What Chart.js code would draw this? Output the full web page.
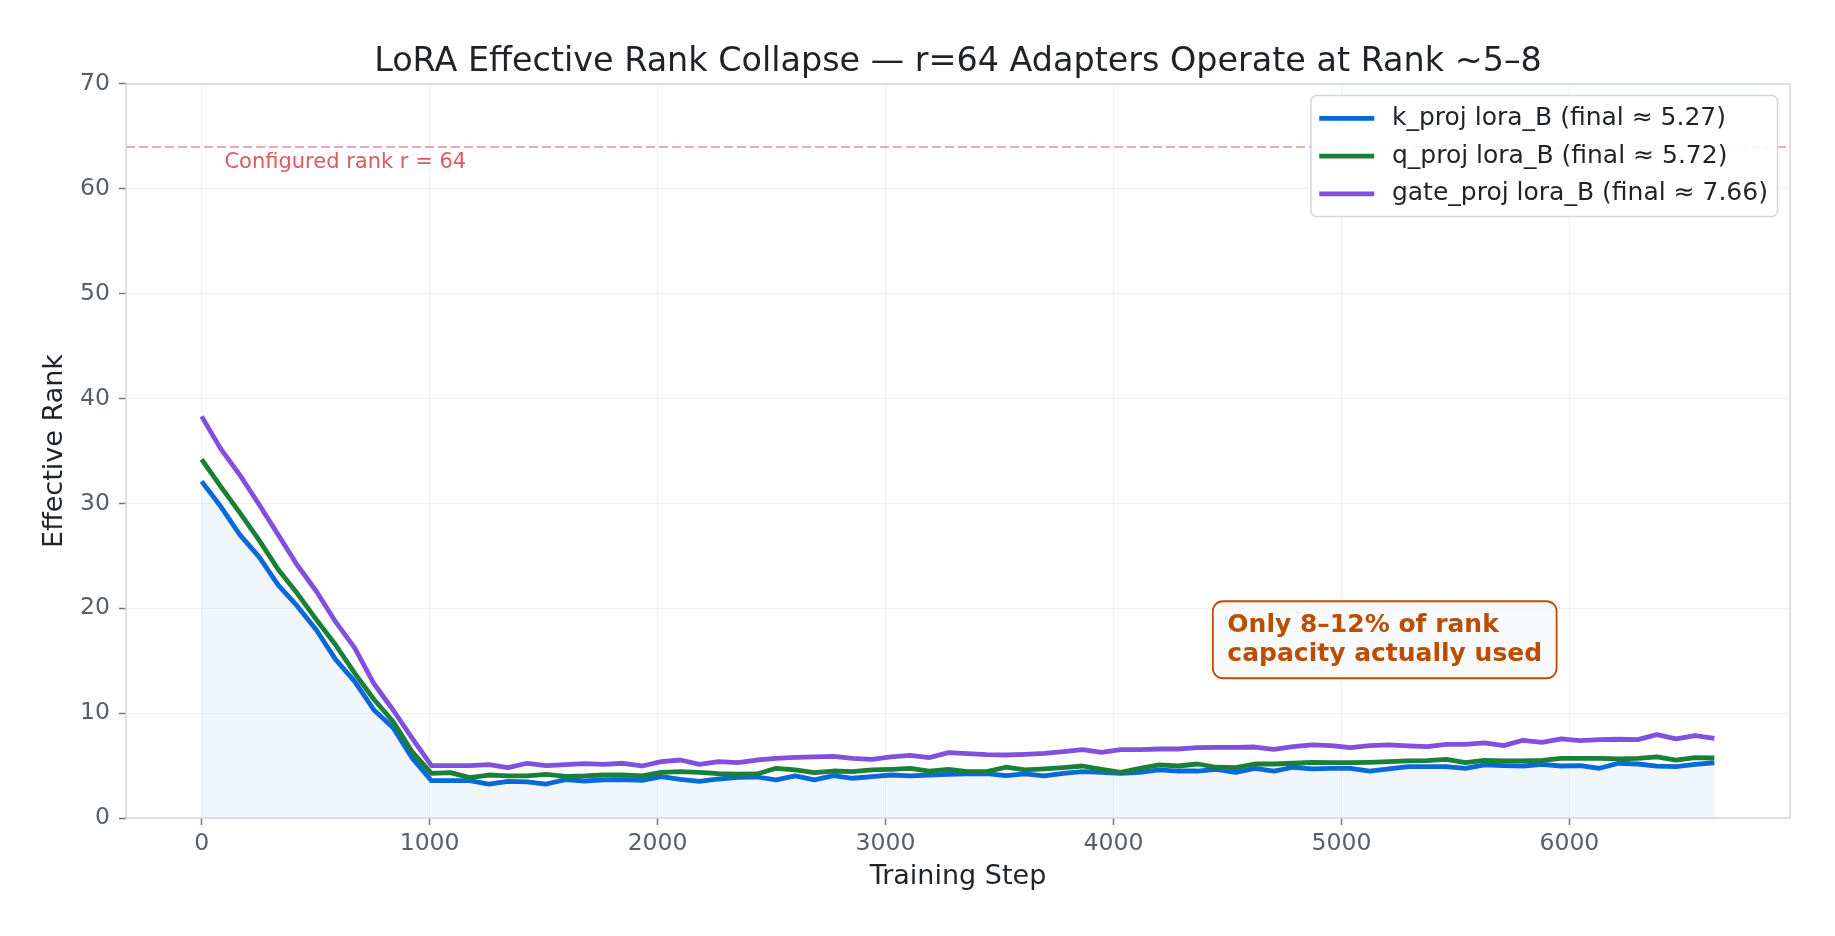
<!DOCTYPE html>
<html><head><meta charset="utf-8">
<script src="https://cdn.jsdelivr.net/npm/chart.js@4.4.1/dist/chart.umd.min.js"></script>
<style>html,body{margin:0;padding:0;background:#fff;}#wrap{width:1835px;height:936px;}</style>
</head><body><div id="wrap"><canvas id="c" width="1835" height="936"></canvas></div>
<script>
const steps = [0, 84, 168, 252, 336, 420, 504, 588, 672, 756, 840, 924, 1008, 1092, 1176, 1260,
  1344, 1428, 1512, 1596, 1680, 1764, 1848, 1932, 2016, 2100, 2184, 2268, 2352, 2436, 2520, 2604,
  2688, 2772, 2856, 2940, 3024, 3108, 3192, 3276, 3360, 3444, 3528, 3612, 3696, 3780, 3864, 3948,
  4032, 4116, 4200, 4284, 4368, 4452, 4536, 4620, 4704, 4788, 4872, 4956, 5040, 5124, 5208, 5292,
  5376, 5460, 5544, 5628, 5712, 5796, 5880, 5964, 6048, 6132, 6216, 6300, 6384, 6468, 6552, 6636];

const kProj = [32.1, 29.7, 27.0, 24.9, 22.2, 20.2, 17.9, 15.1, 13.0, 10.3, 8.6, 5.7,
  3.56, 3.56, 3.56, 3.24, 3.50, 3.44, 3.24, 3.66, 3.53, 3.63, 3.66, 3.59, 3.94, 3.69, 3.50, 3.72,
  3.88, 3.91, 3.63, 4.01, 3.63, 4.04, 3.79, 3.94, 4.10, 4.01, 4.10, 4.17, 4.20, 4.23, 4.04, 4.20,
  4.01, 4.26, 4.42, 4.36, 4.26, 4.36, 4.58, 4.48, 4.48, 4.64, 4.36, 4.74, 4.48, 4.84, 4.68, 4.74,
  4.74, 4.48, 4.68, 4.90, 4.90, 4.90, 4.74, 5.06, 5.00, 4.96, 5.12, 4.96, 5.00, 4.74, 5.22, 5.15,
  4.95, 4.90, 5.12, 5.27];

const qProj = [34.2, 31.6, 29.1, 26.5, 23.7, 21.4, 18.9, 16.5, 13.8, 11.3, 9.2, 6.3,
  4.26, 4.33, 3.85, 4.10, 4.01, 4.01, 4.17, 3.97, 4.01, 4.10, 4.10, 4.01, 4.36, 4.42, 4.36, 4.23,
  4.17, 4.20, 4.74, 4.58, 4.33, 4.48, 4.42, 4.58, 4.64, 4.74, 4.48, 4.64, 4.42, 4.42, 4.84, 4.58,
  4.68, 4.80, 4.96, 4.64, 4.36, 4.74, 5.06, 4.96, 5.15, 4.84, 4.80, 5.15, 5.15, 5.22, 5.31, 5.28,
  5.28, 5.31, 5.37, 5.44, 5.47, 5.60, 5.28, 5.50, 5.44, 5.44, 5.50, 5.69, 5.69, 5.69, 5.63, 5.69,
  5.82, 5.53, 5.76, 5.72];

const gateProj = [38.3, 35.2, 32.7, 29.9, 27.0, 24.1, 21.6, 18.7, 16.2, 12.8, 10.3, 7.6,
  4.99, 4.99, 4.99, 5.09, 4.80, 5.22, 4.99, 5.09, 5.18, 5.12, 5.22, 4.96, 5.37, 5.53, 5.12, 5.37,
  5.28, 5.53, 5.69, 5.79, 5.82, 5.88, 5.69, 5.60, 5.82, 5.98, 5.76, 6.23, 6.14, 6.04, 6.01, 6.07,
  6.17, 6.33, 6.52, 6.27, 6.52, 6.52, 6.58, 6.58, 6.71, 6.74, 6.74, 6.77, 6.55, 6.81, 6.97, 6.90,
  6.71, 6.90, 6.97, 6.87, 6.81, 7.03, 7.03, 7.16, 6.90, 7.41, 7.22, 7.54, 7.38, 7.47, 7.51, 7.47,
  7.95, 7.54, 7.86, 7.60];

const seriesLabels = ['k_proj lora_B (final \u2248 5.27)', 'q_proj lora_B (final \u2248 5.72)', 'gate_proj lora_B (final \u2248 7.66)'];
const xTicks = [0, 1000, 2000, 3000, 4000, 5000, 6000];
const yTicks = [0, 10, 20, 30, 40, 50, 60, 70];
const configuredRank = 64;
const titleText = 'LoRA Effective Rank Collapse \u2014 r=64 Adapters Operate at Rank ~5\u20138';
const annotationLines = ['Only 8\u201312% of rank', 'capacity actually used'];
const configLabel = 'Configured rank r = 64';

const COLORS = ['#0969da', '#1a7f37', '#8250df'];
const FONT = '"DejaVu Sans", "Liberation Sans", sans-serif';
const LW = 4.8;

const toPts = (ys) => steps.map((s, i) => ({x: s, y: ys[i]}));
const span = steps[steps.length - 1] - steps[0];
const xMin = steps[0] - 0.05 * span, xMax = steps[steps.length - 1] + 0.05 * span;

function roundRect(ctx, x, y, w, h, r) {
  ctx.beginPath();
  ctx.moveTo(x + r, y);
  ctx.lineTo(x + w - r, y); ctx.arcTo(x + w, y, x + w, y + r, r);
  ctx.lineTo(x + w, y + h - r); ctx.arcTo(x + w, y + h, x + w - r, y + h, r);
  ctx.lineTo(x + r, y + h); ctx.arcTo(x, y + h, x, y + h - r, r);
  ctx.lineTo(x, y + r); ctx.arcTo(x, y, x + r, y, r);
  ctx.closePath();
}

const overlay = {
  id: 'overlay',
  afterDatasetsDraw(chart) {
    const {ctx, chartArea: ca, scales: {x, y}} = chart;
    ctx.save();
    // reference line
    const yr = y.getPixelForValue(configuredRank);
    ctx.strokeStyle = 'rgba(207,34,46,0.5)';
    ctx.lineWidth = 1.5;
    ctx.setLineDash([9, 4]);
    ctx.beginPath(); ctx.moveTo(ca.left, yr); ctx.lineTo(ca.right, yr); ctx.stroke();
    ctx.setLineDash([]);
    ctx.fillStyle = 'rgba(207,34,46,0.75)';
    ctx.font = '21px ' + FONT;
    ctx.textAlign = 'left'; ctx.textBaseline = 'middle';
    ctx.fillText(configLabel, x.getPixelForValue(100), y.getPixelForValue(62.5));
    // spines
    ctx.strokeStyle = '#d0d7de'; ctx.lineWidth = 1.5;
    ctx.strokeRect(ca.left, ca.top, ca.right - ca.left, ca.bottom - ca.top);
    // annotation box
    ctx.font = 'bold 25px ' + FONT;
    const tw = Math.max(...annotationLines.map(t => ctx.measureText(t).width));
    const cx = x.getPixelForValue(5190), cy = y.getPixelForValue(17);
    const bw = tw + 29, bh = 77;
    roundRect(ctx, cx - bw / 2, cy - bh / 2, bw, bh, 10);
    ctx.fillStyle = 'rgba(246,248,250,0.92)'; ctx.fill();
    ctx.strokeStyle = '#bc4c00'; ctx.lineWidth = 1.8; ctx.stroke();
    ctx.fillStyle = '#bc4c00';
    ctx.fillText(annotationLines[0], cx - tw / 2, cy - 14.5);
    ctx.fillText(annotationLines[1], cx - tw / 2, cy + 14.5);
    // legend
    ctx.font = '25px ' + FONT;
    const lw = Math.max(...seriesLabels.map(t => ctx.measureText(t).width));
    const boxW = 8.3 + 55 + 17.7 + lw + 9.6, boxH = 121;
    const bx = ca.right - 12.5 - boxW, by = ca.top + 11.5;
    roundRect(ctx, bx, by, boxW, boxH, 6);
    ctx.fillStyle = 'rgba(255,255,255,0.9)'; ctx.fill();
    ctx.strokeStyle = '#d0d7de'; ctx.lineWidth = 1.5; ctx.stroke();
    seriesLabels.forEach((lab, i) => {
      const ry = by + 22.8 + i * 37.8;
      ctx.strokeStyle = COLORS[i]; ctx.lineWidth = LW;
      ctx.beginPath(); ctx.moveTo(bx + 8.3, ry); ctx.lineTo(bx + 63.3, ry); ctx.stroke();
      ctx.fillStyle = '#1f2328';
      ctx.fillText(lab, bx + 81, ry);
    });
    ctx.restore();
  }
};

new Chart(document.getElementById('c'), {
  type: 'line',
  data: {
    datasets: [
      {label: seriesLabels[0], data: toPts(kProj), borderColor: COLORS[0], borderWidth: LW,
       fill: 'origin', backgroundColor: 'rgba(9,105,218,0.06)', order: 3},
      {label: seriesLabels[1], data: toPts(qProj), borderColor: COLORS[1], borderWidth: LW, fill: false, order: 2},
      {label: seriesLabels[2], data: toPts(gateProj), borderColor: COLORS[2], borderWidth: LW, fill: false, order: 1}
    ]
  },
  options: {
    responsive: false, animation: false, devicePixelRatio: 1,
    layout: {padding: {left: 0, right: 45, top: 0, bottom: 0}},
    elements: {point: {radius: 0}, line: {tension: 0, borderJoinStyle: 'round'}},
    plugins: {
      legend: {display: false}, tooltip: {enabled: false},
      title: {display: true, text: titleText, fullSize: false, color: '#1f2328',
        font: {family: FONT, size: 33.4, weight: 'normal'}, padding: {top: 42.3, bottom: 1.6}}
    },
    scales: {
      x: {type: 'linear', min: xMin, max: xMax,
        afterBuildTicks: s => { s.ticks = xTicks.map(v => ({value: v})); },
        afterFit: s => { s.height = 118; },
        border: {display: false},
        grid: {color: 'rgba(208,215,222,0.35)', lineWidth: 1, tickColor: '#6e7781', tickLength: 7, tickWidth: 1.5},
        ticks: {color: '#57606a', font: {family: FONT, size: 23.5}, padding: 5, maxRotation: 0, callback: v => String(v)},
        title: {display: true, text: 'Training Step', color: '#1f2328', font: {family: FONT, size: 27}, padding: {top: 0, bottom: 42.8}}
      },
      y: {type: 'linear', min: 0, max: 70,
        afterBuildTicks: s => { s.ticks = yTicks.map(v => ({value: v})); },
        afterFit: s => { s.width = 126; },
        border: {display: false},
        grid: {color: 'rgba(208,215,222,0.35)', lineWidth: 1, tickColor: '#6e7781', tickLength: 7, tickWidth: 1.5},
        ticks: {color: '#57606a', font: {family: FONT, size: 23.5}, padding: 9, callback: v => String(v)},
        title: {display: true, text: 'Effective Rank', color: '#1f2328', font: {family: FONT, size: 27}, padding: {top: 39, bottom: 0}}
      }
    }
  },
  plugins: [overlay]
});
</script></body></html>
